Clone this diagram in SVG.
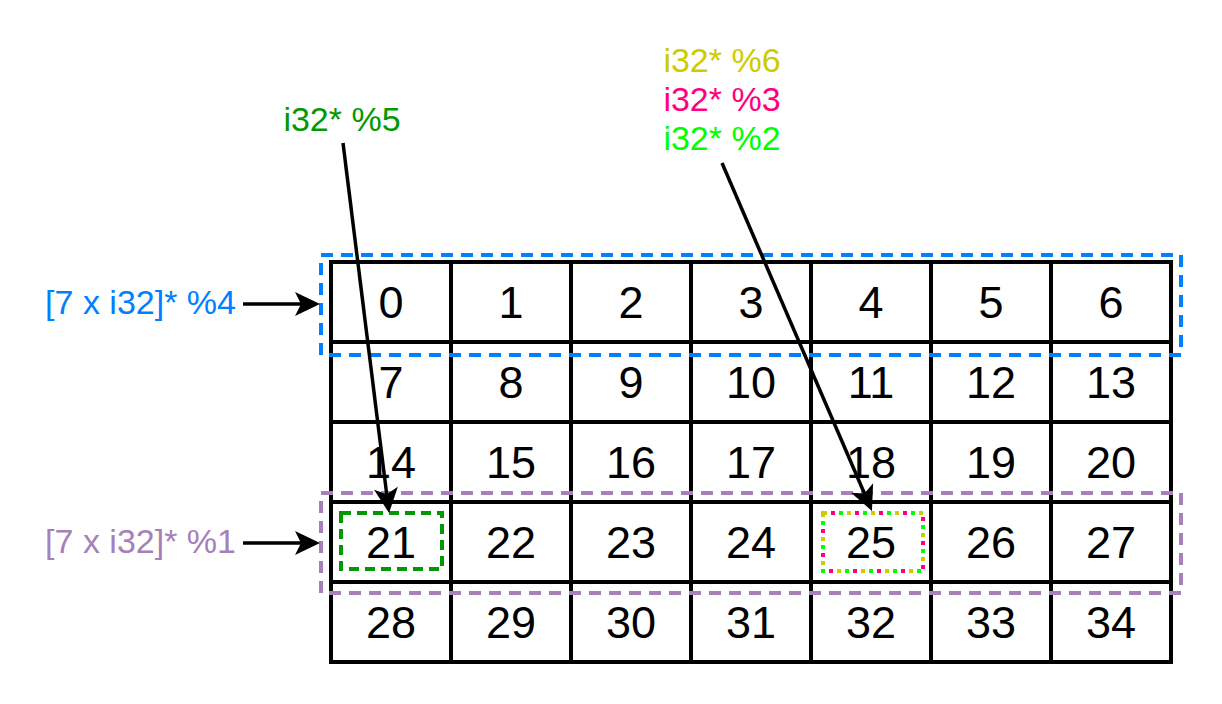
<svg xmlns="http://www.w3.org/2000/svg" width="1222" height="704" viewBox="0 0 1222 704">
<style>
text{font-family:"Liberation Sans",Arial,sans-serif}
.num{font-size:45px;fill:#000;text-anchor:middle}
.lbl{font-size:34px;text-anchor:end}
.top{font-size:34px;text-anchor:middle}
.grid{fill:none;stroke:#000;stroke-width:4}
.arr{stroke:#000;stroke-width:3.5;fill:none;marker-end:url(#ah)}
</style>
<defs>
<marker id="ah" markerUnits="userSpaceOnUse" markerWidth="40" markerHeight="40" viewBox="-30 -20 40 40" refX="-10" refY="0" orient="auto">
<path d="M0,0 L-25,-12 L-19,0 L-25,12 Z" fill="#000"/>
</marker>
</defs>
<g id="grid">
<rect class="grid" x="331" y="262" width="840" height="400"/>
<path class="grid" d="M451,262V662M571,262V662M691,262V662M811,262V662M931,262V662M1051,262V662M331,342H1171M331,422H1171M331,502H1171M331,582H1171"/>
</g>
<g id="cells">
<text class="num" x="391" y="318">0</text><text class="num" x="511" y="318">1</text><text class="num" x="631" y="318">2</text><text class="num" x="751" y="318">3</text><text class="num" x="871" y="318">4</text><text class="num" x="991" y="318">5</text><text class="num" x="1111" y="318">6</text>
<text class="num" x="391" y="398">7</text><text class="num" x="511" y="398">8</text><text class="num" x="631" y="398">9</text><text class="num" x="751" y="398">10</text><text class="num" x="871" y="398">11</text><text class="num" x="991" y="398">12</text><text class="num" x="1111" y="398">13</text>
<text class="num" x="391" y="478">14</text><text class="num" x="511" y="478">15</text><text class="num" x="631" y="478">16</text><text class="num" x="751" y="478">17</text><text class="num" x="871" y="478">18</text><text class="num" x="991" y="478">19</text><text class="num" x="1111" y="478">20</text>
<text class="num" x="391" y="558">21</text><text class="num" x="511" y="558">22</text><text class="num" x="631" y="558">23</text><text class="num" x="751" y="558">24</text><text class="num" x="871" y="558">25</text><text class="num" x="991" y="558">26</text><text class="num" x="1111" y="558">27</text>
<text class="num" x="391" y="638">28</text><text class="num" x="511" y="638">29</text><text class="num" x="631" y="638">30</text><text class="num" x="751" y="638">31</text><text class="num" x="871" y="638">32</text><text class="num" x="991" y="638">33</text><text class="num" x="1111" y="638">34</text>
</g>
<g id="row4-box"><rect x="321" y="255" width="860" height="100" fill="none" stroke="#007FFF" stroke-width="4" stroke-dasharray="12 8"/></g>
<g id="row1-box"><rect x="321" y="493" width="860" height="100" fill="none" stroke="#A680B8" stroke-width="4" stroke-dasharray="12 8"/></g>
<g id="cell21-box"><rect x="341" y="513" width="101" height="56" fill="none" stroke="#009900" stroke-width="4" stroke-dasharray="10 6"/></g>
<g id="cell25-box">
<rect x="823" y="513" width="100" height="58" fill="none" stroke="#CCCC00" stroke-width="4" stroke-dasharray="4 4"/>
<rect x="823" y="513" width="100" height="58" fill="none" stroke="#FF0080" stroke-width="4" stroke-dasharray="4 20" stroke-dashoffset="-8"/>
<rect x="823" y="513" width="100" height="58" fill="none" stroke="#00FF00" stroke-width="4" stroke-dasharray="4 20" stroke-dashoffset="-16"/>
</g>
<g id="labels">
<text class="lbl" x="236" y="314" fill="#007FFF">[7 x i32]* %4</text>
<text class="lbl" x="236" y="553" fill="#A680B8">[7 x i32]* %1</text>
<text class="top" x="342" y="131" fill="#009900">i32* %5</text>
<text class="top" x="722" y="72" fill="#CCCC00">i32* %6</text>
<text class="top" x="722" y="111" fill="#FF0080">i32* %3</text>
<text class="top" x="722" y="150" fill="#00FF00">i32* %2</text>
</g>
<g id="connectors">
<line class="arr" x1="243" y1="304" x2="310" y2="304"/>
<line class="arr" x1="243" y1="543" x2="310" y2="543"/>
<line class="arr" x1="343" y1="143" x2="387.8" y2="503.1"/>
<line class="arr" x1="722" y1="163" x2="868" y2="501.8"/>
</g>
</svg>
